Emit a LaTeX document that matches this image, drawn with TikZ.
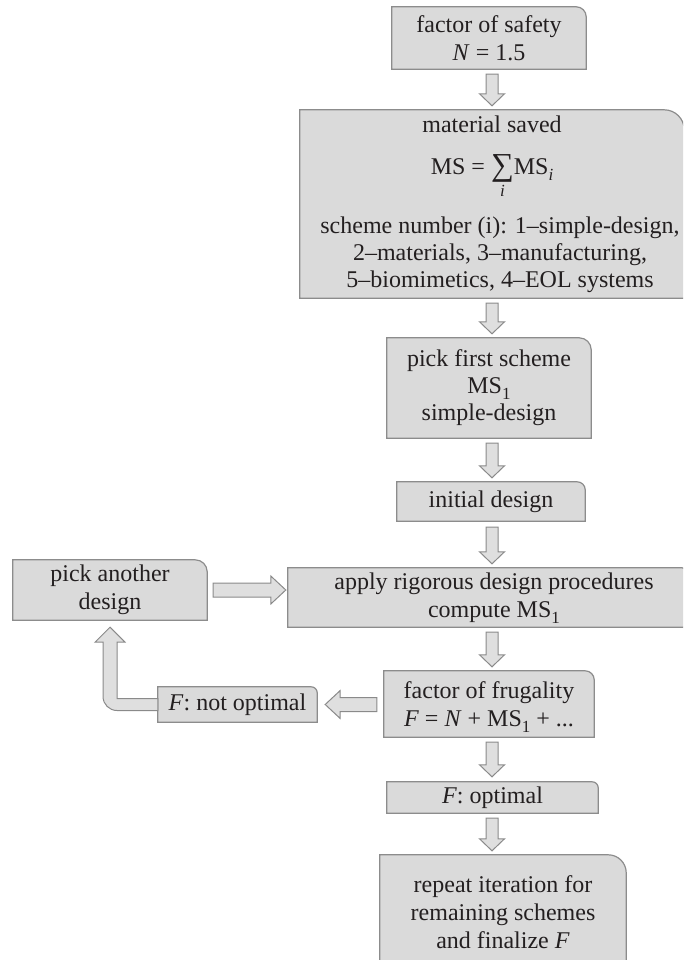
\documentclass[tikz,border=0pt]{standalone}
\usepackage{fontspec}
\setmainfont{Liberation Serif}
\usetikzlibrary{calc,backgrounds}
\definecolor{boxfill}{HTML}{DADADA}
\definecolor{boxline}{HTML}{8C8C8C}
\definecolor{arrfill}{HTML}{DFDFDF}
\definecolor{arrline}{HTML}{8A8A8A}
\definecolor{txt}{HTML}{231F20}
\newcommand\subs[1]{\raisebox{-6pt}[0pt][0pt]{\fontsize{17}{20}\selectfont #1}}
\newcommand\sumi{\ooalign{\raisebox{-1pt}{\fontsize{32}{28}\selectfont ∑}\cr\hidewidth\raisebox{-22pt}[0pt][0pt]{\fontsize{17}{20}\selectfont\itshape i}\hidewidth\cr}}
\begin{document}
\begin{tikzpicture}[x=1pt,y=-1pt,
  box/.style={draw=none, inner sep=0pt, align=center, text=txt,
    font=\fontsize{24}{28}\selectfont},
  boxshape/.style={fill=boxfill, draw=boxline, line width=1.2pt},
  shaftw/.code={\def\bw{#1}}, headw/.code={\def\bH{#1}}, headl/.code={\def\bh{#1}},
  barrow/.style={draw=arrline, fill=arrfill, line width=1pt, line join=miter,
    shaftw=6, headw=12.5, headl=12,
    to path={let \p1=(\tikztostart), \p2=(\tikztotarget),
      \n1={veclen(\x2-\x1,\y2-\y1)}, \n2={(\x2-\x1)/\n1}, \n3={(\y2-\y1)/\n1}, \n4={\n1-\bh} in
      ({\x1+\bw*(\n3)},{\y1-\bw*(\n2)})
      -- ({\x1+\n4*(\n2)+\bw*(\n3)},{\y1+\n4*(\n3)-\bw*(\n2)})
      -- ({\x1+\n4*(\n2)+\bH*(\n3)},{\y1+\n4*(\n3)-\bH*(\n2)})
      -- (\p2)
      -- ({\x1+\n4*(\n2)-\bH*(\n3)},{\y1+\n4*(\n3)+\bH*(\n2)})
      -- ({\x1+\n4*(\n2)-\bw*(\n3)},{\y1+\n4*(\n3)+\bw*(\n2)})
      -- ({\x1-\bw*(\n3)},{\y1+\bw*(\n2)}) -- cycle}},
  hbarrow/.style={barrow, shaftw=7, headw=14, headl=15},
  lbarrow/.style={draw=arrline, fill=arrfill, line width=1pt, line join=miter}]
\useasboundingbox (0,0) rectangle (683,960);
\coordinate (col) at (492,0);
\coordinate (lcol) at (110,0);

\node[box, minimum width=194pt, minimum height=62pt] (safety) at (489,38)
  {factor of safety\\\textit{N} = 1.5};
\node[box, minimum width=384pt, minimum height=188pt] (saved) at (492,204)
  {material saved\\[14pt]
   MS = \sumi MS\subs{\itshape i}\\[31pt]
   \hspace*{16pt}scheme number (i): 1–simple-design,\\[-1pt]
   \hspace*{16pt}2–materials, 3–manufacturing,\\[-1pt]
   \hspace*{16pt}5–biomimetics, 4–EOL systems};
\node[box, minimum width=204pt, minimum height=100pt] (first) at (489,388)
  {pick first scheme\\[-1pt]MS\subs{1}\\[-1pt]simple-design};
\node[box, minimum width=188pt, minimum height=39pt] (initial) at (491,501.5)
  {initial design};
\node[box, minimum width=396pt, minimum height=59pt] (apply) at (486,597.5)
  {\hspace*{16pt}apply rigorous design procedures\\\hspace*{16pt}compute MS\subs{1}};
\node[box, minimum width=194pt, minimum height=60pt] (another) at (110,590)
  {pick another\\design};
\node[box, minimum width=159pt, minimum height=35pt] (noopt) at (237.5,704.5)
  {\textit{F}: not optimal};
\node[box, minimum width=210pt, minimum height=66pt] (frugal) at (489,704)
  {factor of frugality\\\textit{F} = \textit{N} + MS\subs{1} + ...};
\node[box, minimum width=211pt, minimum height=31pt] (optimal) at (492.5,797.5)
  {\textit{F}: optimal};
\node[box, minimum width=246pt, minimum height=114pt] (repeat) at (503,912)
  {repeat iteration for\\remaining schemes\\and finalize \textit{F}};

\begin{pgfonlayer}{background}
\clip (0,0) rectangle (683,960);
\foreach \n/\r in {safety/10, saved/20, first/12, initial/8, apply/2, another/12,
                   noopt/6, frugal/9, optimal/6, repeat/18}{
  \filldraw[boxshape] (\n.south west) -- (\n.north west)
    -- ([xshift=-\r pt]\n.north east) arc[start angle=90,end angle=0,radius=\r pt]
    -- (\n.south east) -- cycle;
}
\end{pgfonlayer}

\draw[barrow] ([yshift=-5pt]safety.south -| col) to ([yshift=4pt]saved.north -| col);
\draw[barrow] ([yshift=-5pt]saved.south -| col) to ([yshift=4pt]first.north -| col);
\draw[barrow] ([yshift=-5pt]first.south -| col) to ([yshift=4pt]initial.north -| col);
\draw[barrow] ([yshift=-6pt]initial.south -| col) to ([yshift=4pt]apply.north -| col);
\draw[barrow] ([yshift=-5pt]apply.south -| col) to ([yshift=4pt]frugal.north -| col);
\draw[barrow] ([yshift=-5pt]frugal.south -| col) to ([yshift=5pt]optimal.north -| col);
\draw[barrow] ([yshift=-5pt]optimal.south -| col) to ([yshift=4pt]repeat.north -| col);
\draw[hbarrow] ([xshift=6pt]another.east) to ([xshift=-2pt]apply.west |- another.east);
\draw[hbarrow] ([xshift=-7pt]frugal.west |- noopt.east) to ([xshift=8pt]noopt.east);
\draw[lbarrow] let \p1=(noopt.west), \p2=([yshift=-7pt]another.south -| lcol) in
  (\x1,{\y1+6}) -- ({\x2+7},{\y1+6}) -- ({\x2+7},{\y2-15}) -- ({\x2+15},{\y2-15})
  -- (\p2) -- ({\x2-15},{\y2-15}) -- ({\x2-7},{\y2-15}) -- ({\x2-7},{\y1-6+14})
  arc[start angle=180,end angle=270,radius=14pt] -- (\x1,{\y1-6}) -- cycle;
\end{tikzpicture}
\end{document}
